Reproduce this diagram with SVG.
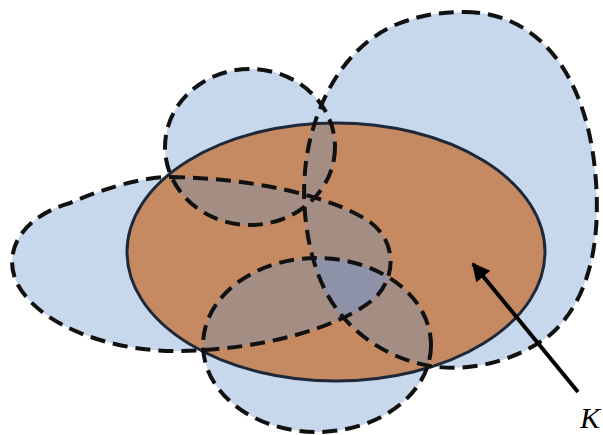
<svg xmlns="http://www.w3.org/2000/svg" xmlns:xlink="http://www.w3.org/1999/xlink" width="603" height="435" viewBox="0 0 603 435">
<style>
.blue{fill:#c7d8ec;stroke:none}
.orange{fill:#c58a62;stroke:none}
.pair{fill:#a48e84;stroke:none}
.triple{fill:#8d92a8;stroke:none}
.dash{fill:none;stroke:#111;stroke-width:4;stroke-dasharray:15 8}
.solid{fill:none;stroke:#1e2838;stroke-width:3}
.arrow{stroke:#000;stroke-width:4;fill:none}
.lbl{font-family:"Liberation Serif",serif;font-style:italic;font-size:30px;fill:#000}
</style>
<defs>
<path id="shA" d="M 465 12 C 535 12, 585 70, 595 170 C 602 240, 590 300, 550 335 C 515 362, 470 372, 430 366 C 385 358, 345 330, 325 290 C 305 250, 298 190, 310 140 C 322 90, 350 45, 395 25 C 420 15, 440 12, 465 12 Z"/>
<path id="shB" d="M 170 177 C 250 178, 330 195, 370 222 C 395 240, 398 275, 375 298 C 340 328, 260 350, 180 351 C 110 352, 40 325, 18 285 C 2 255, 18 218, 70 203 C 100 190, 140 177, 170 177 Z"/>
<ellipse id="shT" cx="250" cy="147" rx="85" ry="78"/>
<ellipse id="shC" cx="317" cy="345" rx="114" ry="87"/>
<ellipse id="shK" cx="336" cy="252" rx="209" ry="129"/>
<clipPath id="clipK"><ellipse cx="336" cy="252" rx="209" ry="129"/></clipPath>
<clipPath id="clipA"><path d="M 465 12 C 535 12, 585 70, 595 170 C 602 240, 590 300, 550 335 C 515 362, 470 372, 430 366 C 385 358, 345 330, 325 290 C 305 250, 298 190, 310 140 C 322 90, 350 45, 395 25 C 420 15, 440 12, 465 12 Z"/></clipPath>
<clipPath id="clipB"><path d="M 170 177 C 250 178, 330 195, 370 222 C 395 240, 398 275, 375 298 C 340 328, 260 350, 180 351 C 110 352, 40 325, 18 285 C 2 255, 18 218, 70 203 C 100 190, 140 177, 170 177 Z"/></clipPath>
<clipPath id="clipT"><ellipse cx="250" cy="147" rx="85" ry="78"/></clipPath>
<clipPath id="clipC"><ellipse cx="317" cy="345" rx="114" ry="87"/></clipPath>
<marker id="head" viewBox="0 0 10 10" refX="9" refY="5" markerWidth="5" markerHeight="4.5" orient="auto" markerUnits="strokeWidth">
<path d="M0,0 L10,5 L0,10 Z" fill="#000"/>
</marker>
</defs>

<g id="fills">
<use href="#shA" class="blue"/>
<use href="#shB" class="blue"/>
<use href="#shT" class="blue"/>
<use href="#shC" class="blue"/>
<use href="#shK" class="orange"/>
<g id="overlaps" clip-path="url(#clipK)">
<g clip-path="url(#clipT)"><use href="#shB" class="pair"/></g>
<g clip-path="url(#clipT)"><use href="#shA" class="pair"/></g>
<g clip-path="url(#clipA)"><use href="#shB" class="pair"/></g>
<g clip-path="url(#clipC)"><use href="#shB" class="pair"/></g>
<g clip-path="url(#clipC)"><use href="#shA" class="pair"/></g>
<g clip-path="url(#clipA)"><g clip-path="url(#clipB)"><use href="#shC" class="triple"/></g></g>
</g>
</g>

<g id="setK"><use href="#shK" class="solid"/></g>
<g id="setA"><use href="#shA" class="dash"/></g>
<g id="setB"><use href="#shB" class="dash"/></g>
<g id="setTop"><use href="#shT" class="dash"/></g>
<g id="setBottom"><use href="#shC" class="dash"/></g>

<g id="connectors">
<line class="arrow" x1="578" y1="392" x2="473" y2="264" marker-end="url(#head)"/>
</g>
<g id="labelK"><text class="lbl" x="580" y="428">K</text></g>
</svg>
